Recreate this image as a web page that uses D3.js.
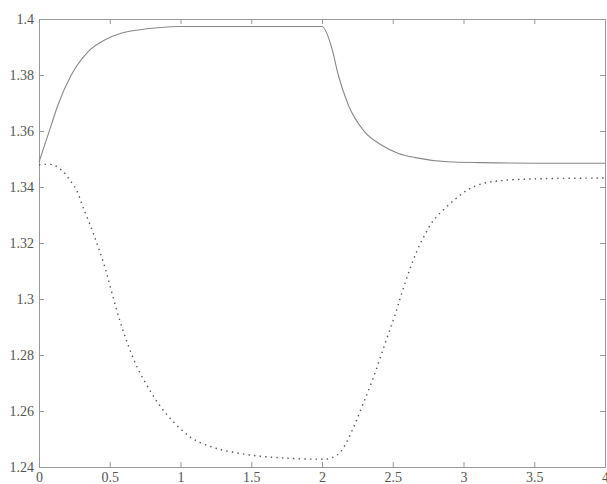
<!DOCTYPE html>
<html>
<head>
<meta charset="utf-8">
<script src="https://cdn.jsdelivr.net/npm/d3@7"></script>
<style>
  body { margin: 0; background: #fff; }
  svg { display: block; }
</style>
</head>
<body>
<div id="chart"></div>
<script>
// solid curve
var solidT = [0, 0.087, 0.134, 0.228, 0.346, 0.464, 0.58, 0.70, 0.84, 1.0, 1.5, 2.0,
              2.07, 2.115, 2.186, 2.30, 2.42, 2.54, 2.66, 2.89, 3.13, 3.5, 4.0];
var solidV = [1.3489, 1.3622, 1.3693, 1.380, 1.3883, 1.3925, 1.3949, 1.3961, 1.3969, 1.3973, 1.3973, 1.3973,
              1.3895, 1.380, 1.3693, 1.3598, 1.355, 1.352, 1.3505, 1.349, 1.3487, 1.3485, 1.3485];

// dotted curve
var dotT = [0, 0.1, 0.17, 0.217, 0.264, 0.31, 0.37, 0.417, 0.464, 0.51, 0.57, 0.63, 0.70, 0.79, 0.86, 0.93,
            1.02, 1.1, 1.256, 1.49, 1.73, 1.96, 2.05, 2.12, 2.17, 2.23, 2.29, 2.36, 2.43, 2.49, 2.53, 2.56,
            2.62, 2.67, 2.72, 2.79, 2.87, 2.95, 3.03, 3.12, 3.25, 3.5, 4.0];
var dotV = [1.3479, 1.3479, 1.3455, 1.3425, 1.339, 1.333, 1.3253, 1.3187, 1.3116, 1.3032, 1.2925, 1.2835, 1.2750, 1.2668, 1.2615, 1.2572,
            1.2527, 1.2497, 1.2466, 1.2443, 1.2432, 1.2428, 1.2430, 1.2448, 1.2485, 1.2550, 1.2625, 1.2715, 1.2818, 1.2905, 1.2965, 1.3015,
            1.3105, 1.3170, 1.3223, 1.3282, 1.3324, 1.3360, 1.3390, 1.3410, 1.3422, 1.3429, 1.3432];

var xTicks = [0, 0.5, 1, 1.5, 2, 2.5, 3, 3.5, 4];
var yTicks = [1.24, 1.26, 1.28, 1.3, 1.32, 1.34, 1.36, 1.38, 1.4];

var W = 607, H = 484;
var svg = d3.select("#chart").append("svg").attr("width", W).attr("height", H);

var x = d3.scaleLinear().domain([0, 4]).range([39, 605]);
var y = d3.scaleLinear().domain([1.24, 1.4]).range([467, 19]);

var fmt = function(d) { return String(d); };

// bottom + top axes
svg.append("g").attr("transform", "translate(0," + y(1.24) + ")")
   .call(d3.axisBottom(x).tickValues(xTicks).tickFormat(fmt).tickSizeInner(-5).tickSizeOuter(0).tickPadding(5));
svg.append("g").attr("transform", "translate(0," + y(1.4) + ")")
   .call(d3.axisTop(x).tickValues(xTicks).tickFormat("").tickSizeInner(-5).tickSizeOuter(0));

// left + right axes
svg.append("g").attr("transform", "translate(" + x(0) + ",0)")
   .call(d3.axisLeft(y).tickValues(yTicks).tickFormat(fmt).tickSizeInner(-5).tickSizeOuter(0).tickPadding(5));
svg.append("g").attr("transform", "translate(" + x(4) + ",0)")
   .call(d3.axisRight(y).tickValues(yTicks).tickFormat("").tickSizeInner(-5).tickSizeOuter(0));

svg.selectAll("g").attr("font-family", null);
svg.selectAll(".domain").attr("stroke", "#999");
svg.selectAll(".tick line").attr("stroke", "#999");
svg.selectAll(".tick text")
   .style("font-family", "'Times New Roman', 'Liberation Serif', 'DejaVu Serif', serif")
   .style("font-size", "14px")
   .attr("fill", "#555");

var solidLine = d3.line()
   .x(function(d) { return x(d[0]); })
   .y(function(d) { return y(d[1]); })
   .curve(d3.curveMonotoneX);

var dotLine = d3.line()
   .x(function(d) { return x(d[0]); })
   .y(function(d) { return y(d[1]); })
   .curve(d3.curveCatmullRom.alpha(0.5));

svg.append("path")
   .datum(d3.zip(solidT, solidV))
   .attr("d", solidLine)
   .attr("fill", "none")
   .attr("stroke", "#888")
   .attr("stroke-width", 1.1);

svg.append("path")
   .datum(d3.zip(dotT, dotV))
   .attr("d", dotLine)
   .attr("fill", "none")
   .attr("stroke", "#555")
   .attr("stroke-width", 1.4)
   .attr("stroke-dasharray", "1.4,4.2");
</script>
</body>
</html>
